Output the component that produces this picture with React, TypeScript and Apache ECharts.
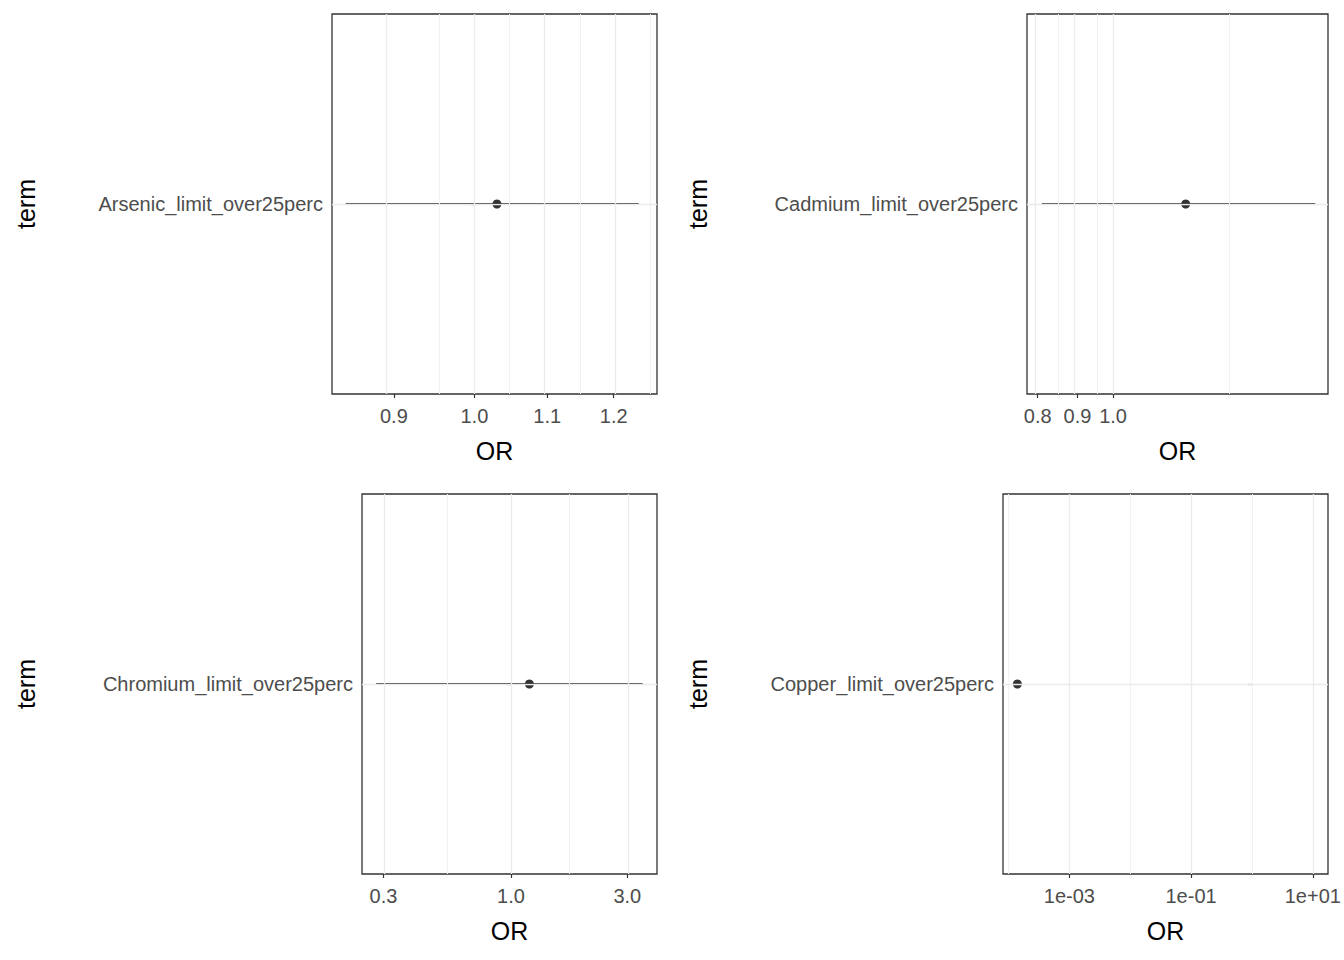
import React, { useEffect, useRef } from "react";
import * as echarts from "echarts";

const terms = ["Arsenic_limit_over25perc", "Cadmium_limit_over25perc", "Chromium_limit_over25perc", "Copper_limit_over25perc"];
const estimates = [1.03, 1.24, 1.19, 0.00014];
const lows: (number | null)[] = [0.845, 0.81, 0.28, null];
const highs: (number | null)[] = [1.24, 1.82, 3.47, null];
const axisMin = [0.83, 0.775, 0.245, Math.pow(10, -4.09)];
const axisMax = [1.27, 1.89, 3.97, Math.pow(10, 1.25)];
const majorTicks = [[0.9, 1.0, 1.1, 1.2], [0.8, 0.9, 1.0], [0.3, 1.0, 3.0], [0.001, 0.1, 10]];
const tickLabels = [["0.9", "1.0", "1.1", "1.2"], ["0.8", "0.9", "1.0"], ["0.3", "1.0", "3.0"], ["1e-03", "1e-01", "1e+01"]];
const minorBreaks = [[0.95, 1.05, 1.15, 1.25], [0.85, 0.95, 1.42], [0.55, 1.73], [0.0001, 0.01, 1]];

const grids = [
  { left: 332, top: 14, width: 325, height: 380, termGap: 294 },
  { left: 1027, top: 14, width: 301, height: 380, termGap: 317 },
  { left: 362, top: 494, width: 295, height: 380, termGap: 324 },
  { left: 1003, top: 494, width: 325, height: 380, termGap: 293 },
];

const L = (v: number) => Math.log10(v);
const FONT = "Liberation Sans, Arial, sans-serif";

export default function App() {
  const ref = useRef<HTMLDivElement>(null);
  useEffect(() => {
    const chart = echarts.init(ref.current!, null, { renderer: "svg" });
    const xAxis: any[] = [], yAxis: any[] = [], series: any[] = [];
    grids.forEach((g, i) => {
      const ticks = majorTicks[i].map(L);
      xAxis.push({
        type: "value", gridIndex: i, min: L(axisMin[i]), max: L(axisMax[i]),
        splitLine: { show: false }, axisLine: { show: false },
        axisTick: { show: true, customValues: ticks, length: 4, lineStyle: { color: "#333", width: 1.2 } },
        axisLabel: {
          customValues: ticks, color: "#4d4d4d", fontSize: 20, fontFamily: FONT, margin: 12,
          formatter: (v: number) => {
            const k = ticks.findIndex((t) => Math.abs(t - v) < 1e-6);
            return k >= 0 ? tickLabels[i][k] : "";
          },
        },
        name: "OR", nameLocation: "middle", nameGap: 44,
        nameTextStyle: { color: "#000", fontSize: 25, fontFamily: FONT },
      });
      yAxis.push({
        type: "value", gridIndex: i, min: 0, max: 2,
        splitLine: { show: false }, axisLine: { show: false },
        axisTick: { show: true, customValues: [1], length: 4, lineStyle: { color: "#333", width: 1.2 } },
        axisLabel: { customValues: [1], formatter: () => terms[i], color: "#4d4d4d", fontSize: 20, fontFamily: FONT, margin: 9 },
        name: "term", nameLocation: "middle", nameRotate: 90, nameGap: g.termGap,
        nameTextStyle: { color: "#000", fontSize: 25, fontFamily: FONT },
      });
      const gridLines: any[] = [];
      minorBreaks[i].forEach((v) => gridLines.push({ xAxis: L(v), lineStyle: { color: "#f2f2f2", width: 1, type: "solid" } }));
      ticks.forEach((v) => gridLines.push({ xAxis: v, lineStyle: { color: "#ebebeb", width: 1.3, type: "solid" } }));
      gridLines.push({ yAxis: 1, lineStyle: { color: "#ebebeb", width: 1.3, type: "solid" } });
      series.push({
        type: "line", xAxisIndex: i, yAxisIndex: i, data: [], silent: true, z: 1,
        markLine: { silent: true, symbol: "none", label: { show: false }, data: gridLines, animation: false },
      });
      if (lows[i] !== null && highs[i] !== null) {
        series.push({
          type: "line", xAxisIndex: i, yAxisIndex: i, z: 3, symbol: "none",
          lineStyle: { color: "#000", width: 1.6 },
          data: [[L(lows[i]!), 1], [L(highs[i]!), 1]],
        });
      }
      series.push({
        type: "scatter", xAxisIndex: i, yAxisIndex: i, z: 4, symbolSize: 9,
        itemStyle: { color: "#000" }, data: [[L(estimates[i]), 1]],
      });
    });
    chart.setOption({
      animation: false,
      grid: grids.map((g) => ({ left: g.left, top: g.top, width: g.width, height: g.height, show: true, borderColor: "#333", borderWidth: 1.3, backgroundColor: "#fff" })),
      xAxis, yAxis, series,
    });
    return () => chart.dispose();
  }, []);
  return <div ref={ref} style={{ position: "fixed", left: 0, top: 0, width: 1344, height: 960, background: "#fff" }} />;
}
